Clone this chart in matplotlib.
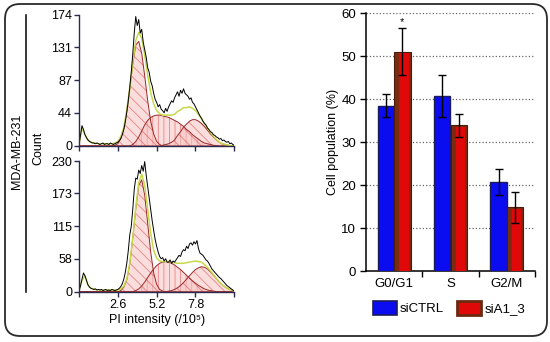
import numpy as np
import matplotlib
matplotlib.use("Agg")
import matplotlib.pyplot as plt
from matplotlib.patches import FancyBboxPatch, Patch

plt.rcParams['font.family'] = ['Liberation Sans', 'DejaVu Sans']
plt.rcParams['font.size'] = 9
plt.rcParams['hatch.linewidth'] = 0.6

# ---- histogram data (PI intensity /1e5 vs count) ----
trace_x = np.round(np.arange(0, 105) * 0.1, 1)
top_counts = [2, 14, 27, 22, 15, 11, 8, 6, 5, 4,
              4, 3, 4, 3, 2, 3, 4, 2, 3, 3,
              2, 4, 3, 2, 3, 4, 5, 7, 10, 15,
              22, 32, 45, 60, 78, 98, 122, 150, 172, 160,
              168, 150, 155, 138, 128, 118, 104, 98, 86, 80,
              70, 62, 58, 52, 55, 49, 47, 44, 50, 46,
              52, 56, 60, 58, 64, 68, 72, 66, 74, 70,
              76, 70, 68, 66, 62, 64, 58, 56, 52, 48,
              44, 40, 37, 33, 30, 28, 24, 22, 19, 18,
              15, 14, 12, 11, 9, 10, 7, 8, 6, 5,
              6, 3, 4, 2, 1]
bot_counts = [2, 10, 22, 33, 28, 20, 12, 8, 6, 5,
              4, 5, 3, 4, 3, 4, 2, 3, 4, 2,
              3, 2, 4, 3, 2, 3, 4, 6, 9, 14,
              22, 34, 50, 72, 100, 115, 145, 180, 200, 198,
              214, 208, 222, 212, 229, 205, 185, 165, 145, 125,
              108, 92, 80, 70, 62, 58, 60, 54, 58, 52,
              52, 56, 50, 54, 52, 56, 60, 64, 62, 70,
              74, 72, 80, 76, 84, 86, 82, 88, 84, 90,
              76, 68, 66, 64, 60, 56, 54, 50, 45, 40,
              37, 34, 31, 28, 25, 23, 20, 17, 14, 11,
              9, 7, 5, 3, 1]

# fitted components on a 0.2 grid (0 .. 10.4)
comp_x = np.round(np.arange(0, 53) * 0.2, 1)
top_debris = [2, 24, 15, 8, 5, 4, 3.5, 3, 3, 3, 3, 3, 3, 3, 2.5, 2, 1.5, 1, 0.5, 0] + [0] * 33
top_g1 = [0] * 12 + [1, 3, 10, 23, 46, 76, 109, 134, 139, 123, 93, 60, 33, 16, 6, 2, 0] + [0] * 24
top_s = [0] * 18 + [2, 6, 12, 20, 28, 34, 38, 40, 41, 41, 40, 39, 38, 36, 34, 32, 29, 26, 22,
                    19, 15, 12, 9, 6, 4, 3, 2, 1, 0.5] + [0] * 6
top_g2 = [0] * 28 + [1, 2, 3, 5, 8, 14, 19, 25, 29, 33, 35, 35, 33, 30, 26, 21, 16, 12, 8, 5,
                     3, 2, 1, 0, 0]
bot_debris = [2, 20, 28, 12, 6, 4.5, 3.5, 3, 3, 3, 3, 3, 3, 3, 2.5, 2, 1.5, 1, 0.5, 0] + [0] * 33
bot_g1 = [0] * 12 + [0, 0, 2, 8, 21, 49, 94, 146, 187, 197, 170, 120, 70, 33, 13, 4, 1, 0] + [0] * 23
bot_s = [0] * 19 + [2, 5, 10, 17, 25, 33, 40, 46, 50, 52, 53, 52, 50, 47, 43, 39, 34, 29, 24,
                    19, 15, 11, 8, 5, 3, 2, 1] + [0] * 7
bot_g2 = [0] * 30 + [1, 2, 4, 7, 11, 16, 22, 28, 34, 39, 42, 44, 43, 40, 35, 29, 23, 17, 12, 8,
                     5, 3, 1]

top_yticks = [0, 44, 87, 131, 174]
bot_yticks = [0, 58, 115, 173, 230]
hist_xticks = [0, 2.6, 5.2, 7.8, 10.4]

# ---- bar chart data ----
phases = ['G0/G1', 'S', 'G2/M']
ctrl = [38.5, 40.7, 20.8]
ctrl_err = [2.7, 4.9, 3.0]
si = [51.1, 33.9, 14.8]
si_err = [5.4, 2.6, 3.7]

W, H = 550, 342
fig = plt.figure(figsize=(5.5, 3.42), dpi=100)

# overlay for frame and left-side labels (pixel coordinates)
bg = fig.add_axes([0, 0, 1, 1])
bg.set_xlim(0, W)
bg.set_ylim(H, 0)
bg.axis('off')
bg.add_patch(FancyBboxPatch((5, 4), 542, 332, boxstyle="round,pad=0,rounding_size=15",
                            fill=False, ec='#2a2a2a', lw=1.3))
bg.plot([25.5, 25.5], [15, 292], color='k', lw=1.1)
bg.text(17.5, 151, 'MDA-MB-231', rotation=90, ha='center', va='center', fontsize=9)
bg.text(38, 148, 'Count', rotation=90, ha='center', va='center', fontsize=9)
bg.text(157, 320, 'PI intensity (/10\u2075)', ha='center', va='center', fontsize=9)
bg.text(333, 142, 'Cell population (%)', rotation=90, ha='center', va='center', fontsize=9)


def fig_rect(x0, y0, x1, y1):
    return [x0 / W, 1 - y1 / H, (x1 - x0) / W, (y1 - y0) / H]


def draw_hist(ax, counts, debris, g1, s, g2, yticks, show_xlabels):
    g1 = np.array(g1, float)
    s = np.array(s, float)
    g2 = np.array(g2, float)
    for comp, hatch in [(s, '|||'), (g2, '\\\\\\'), (g1, '\\\\\\')]:
        ax.fill_between(comp_x, 0, comp, facecolor='#f6c4c4', alpha=0.55,
                        edgecolor='#d83a3a', hatch=hatch, lw=0)
        ax.plot(comp_x, comp, color='#9a2a2a', lw=0.7)
    fit = np.array(debris, float) + g1 + s + g2
    ax.plot(comp_x, fit, color='#c8d84a', lw=1.1)
    ax.plot(trace_x, counts, color='k', lw=0.7)
    ax.set_xlim(0, 10.4)
    ax.set_ylim(0, yticks[-1])
    ax.set_yticks(yticks)
    ax.set_xticks(hist_xticks)
    if show_xlabels:
        ax.set_xticklabels(['', '2.6', '5.2', '7.8', ''])
    else:
        ax.set_xticklabels([])
    for side in ['top', 'right']:
        ax.spines[side].set_visible(False)
    for side in ['left', 'bottom']:
        ax.spines[side].set_color('#2b2b50')
        ax.spines[side].set_linewidth(1.0)
    ax.tick_params(direction='out', length=3.5, width=1, color='#2b2b50',
                   labelsize=9, pad=1.5)
    ax.patch.set_alpha(0)


ax1 = fig.add_axes(fig_rect(79, 15, 234.3, 146))
draw_hist(ax1, top_counts, top_debris, top_g1, top_s, top_g2, top_yticks, False)
ax2 = fig.add_axes(fig_rect(79, 161, 234.3, 291.7))
draw_hist(ax2, bot_counts, bot_debris, bot_g1, bot_s, bot_g2, bot_yticks, True)

# ---- bar chart ----
ax3 = fig.add_axes(fig_rect(366, 13.3, 535, 271))
x = np.arange(len(phases)) + 0.5
w = 0.29
ax3.bar(x - w / 2, ctrl, w, color='#0c0cf0', edgecolor='#1c1c5a', lw=1.0, zorder=3)
ax3.bar(x + w / 2, si, w, color='#7a2c12', edgecolor='#4a1a0a', lw=0.8, zorder=3)
ax3.bar(x + w / 2 + w * 0.1, np.array(si) - 0.35, w * 0.58, color='#e00808', lw=0, zorder=3)
ax3.errorbar(x - w / 2, ctrl, yerr=ctrl_err, fmt='none', ecolor='k', elinewidth=1,
             capsize=3, capthick=1, zorder=4)
ax3.errorbar(x + w / 2, si, yerr=si_err, fmt='none', ecolor='k', elinewidth=1,
             capsize=3, capthick=1, zorder=4)
ax3.text(x[0] + w / 2, si[0] + si_err[0] + 0.3, '*', ha='center', va='bottom', fontsize=8)
ax3.set_xlim(0, 3)
ax3.set_ylim(0, 60)
ax3.set_yticks(range(0, 61, 10))
ax3.set_xticks(x)
ax3.set_xticklabels(phases)
ax3.set_xticks([1, 2, 3], minor=True)
ax3.tick_params(axis='x', which='major', length=0, pad=5, labelsize=9.5)
ax3.tick_params(axis='x', which='minor', length=4, width=1, direction='out')
ax3.tick_params(axis='y', length=4, width=1, direction='out', labelsize=9.5, pad=3)
ax3.yaxis.grid(True, ls=':', color='#666666', lw=0.9, zorder=0)
for side in ['top', 'right']:
    ax3.spines[side].set_visible(False)
for side in ['left', 'bottom']:
    ax3.spines[side].set_linewidth(1.1)
ax3.patch.set_alpha(0)

handles = [Patch(facecolor='#0c0cf0', edgecolor='#1c1c5a', lw=1.2, label='siCTRL'),
           Patch(facecolor='#e00808', edgecolor='#6b2a10', lw=2, label='siA1_3')]
fig.legend(handles=handles, loc='center', bbox_to_anchor=(449 / W, 1 - 308 / H), ncol=2,
           frameon=False, fontsize=9.5, handlelength=1.8, handleheight=1.35,
           handletextpad=0.25, columnspacing=1.0, borderpad=0)

fig.savefig('out.png', dpi=100)
